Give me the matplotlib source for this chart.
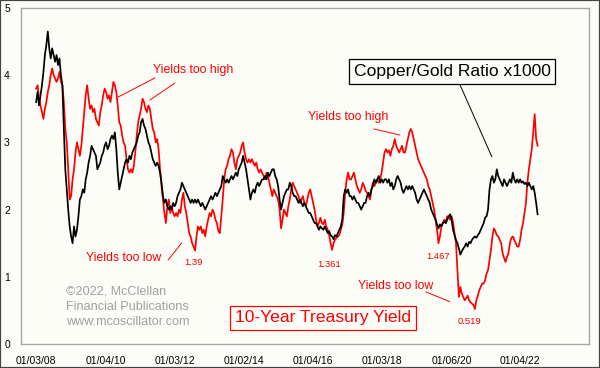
import matplotlib
matplotlib.use("Agg")
import matplotlib.pyplot as plt
from matplotlib.patches import Rectangle
import pandas as pd

plt.rcParams['font.family'] = ['Liberation Sans', 'DejaVu Sans']

# copper/gold ratio x1000, roughly twice a month
copper_gold = [
    3.6, 3.75, 3.55, 3.7, 3.85, 4.05, 4.3, 4.45, 4.65, 4.4, 4.25, 4.4, 4.3, 4.2, 4.3, 4.15, 4.25, 4.0, 3.85, 3.2, 2.6, 2.3, 2.0, 1.75,
    1.6, 1.5, 1.75, 1.6, 1.7, 1.9, 2.15, 2.2, 2.3, 2.25, 2.45, 2.55, 2.7, 2.8, 2.95, 2.9, 2.85, 2.8, 2.6, 2.65, 2.7, 2.8, 2.85, 2.95,
    3.0, 2.9, 2.95, 3.05, 3.1, 3.05, 3.15, 2.9, 2.55, 2.3, 2.4, 2.5, 2.6, 2.7, 2.75, 2.7, 2.8, 2.75, 2.85, 2.9, 2.95, 3.0, 3.1, 3.15,
    3.3, 3.35, 3.25, 3.2, 3.1, 3.0, 2.95, 2.85, 2.75, 2.7, 2.65, 2.7, 2.65, 2.55, 2.4, 2.2, 2.1, 2.15, 2.05, 2.0, 2.05, 2.0, 2.1, 2.05,
    2.1, 2.2, 2.25, 2.3, 2.4, 2.35, 2.3, 2.25, 2.2, 2.15, 2.1, 2.15, 2.1, 2.15, 2.1, 2.15, 2.1, 2.05, 2.1, 2.05, 2.0, 2.05, 2.1, 2.15,
    2.2, 2.15, 2.2, 2.25, 2.2, 2.25, 2.3, 2.35, 2.5, 2.45, 2.4, 2.45, 2.4, 2.45, 2.5, 2.45, 2.5, 2.55, 2.5, 2.6, 2.65, 2.7, 2.8, 2.7,
    2.6, 2.45, 2.3, 2.15, 2.25, 2.3, 2.25, 2.35, 2.4, 2.35, 2.4, 2.45, 2.45, 2.5, 2.45, 2.55, 2.5, 2.55, 2.6, 2.6, 2.5, 2.45, 2.35, 2.15,
    2.0, 2.1, 2.2, 2.25, 2.3, 2.3, 2.4, 2.35, 2.25, 2.2, 2.2, 2.15, 2.1, 2.15, 2.1, 2.05, 2.1, 2.05, 2.0, 1.95, 1.95, 1.9, 1.85, 1.8,
    1.8, 1.75, 1.7, 1.75, 1.72, 1.7, 1.75, 1.7, 1.65, 1.68, 1.62, 1.6, 1.56, 1.62, 1.6, 1.65, 1.7, 1.75, 1.85, 2.2, 2.3, 2.25, 2.3, 2.2,
    2.2, 2.15, 2.2, 2.15, 2.1, 2.1, 2.05, 2.0, 2.05, 2.1, 2.1, 2.2, 2.25, 2.2, 2.3, 2.35, 2.45, 2.4, 2.45, 2.5, 2.4, 2.45, 2.4, 2.45,
    2.45, 2.4, 2.45, 2.35, 2.4, 2.3, 2.35, 2.45, 2.5, 2.45, 2.4, 2.3, 2.25, 2.3, 2.35, 2.3, 2.35, 2.3, 2.35, 2.3, 2.25, 2.15, 2.1, 2.15,
    2.2, 2.25, 2.3, 2.25, 2.2, 2.15, 2.1, 2.0, 1.95, 1.9, 1.85, 1.78, 1.72, 1.78, 1.75, 1.8, 1.82, 1.8, 1.85, 1.9, 1.93, 1.85, 1.7, 1.62,
    1.55, 1.5, 1.42, 1.33, 1.38, 1.42, 1.45, 1.5, 1.45, 1.52, 1.5, 1.55, 1.58, 1.6, 1.58, 1.62, 1.65, 1.7, 1.75, 1.8, 1.88, 1.9, 2.0, 2.3,
    2.45, 2.5, 2.4, 2.45, 2.6, 2.5, 2.45, 2.4, 2.35, 2.45, 2.4, 2.35, 2.4, 2.45, 2.4, 2.55, 2.45, 2.4, 2.45, 2.4, 2.45, 2.4, 2.42, 2.38,
    2.4, 2.35, 2.4, 2.35, 2.3, 2.35, 2.25, 2.1, 1.93,
]

# 10-year treasury yield, same dates
treasury_10y = [
    3.8, 3.85, 3.65, 3.55, 3.45, 3.35, 3.5, 3.6, 3.75, 3.85, 4.0, 4.1, 4.0, 3.95, 3.9, 3.95, 4.05, 3.9, 3.85, 3.6, 3.2, 3.0, 2.6, 2.15,
    2.2, 2.45, 2.6, 2.85, 3.0, 2.9, 2.8, 2.95, 3.2, 3.45, 3.7, 3.85, 3.65, 3.5, 3.55, 3.45, 3.5, 3.35, 3.3, 3.25, 3.45, 3.55, 3.7, 3.8,
    3.75, 3.65, 3.7, 3.6, 3.75, 3.9, 3.85, 3.75, 3.55, 3.3, 3.25, 3.1, 3.0, 2.95, 2.75, 2.6, 2.55, 2.6, 2.55, 2.65, 2.85, 3.1, 3.3, 3.4,
    3.5, 3.65, 3.6, 3.5, 3.45, 3.55, 3.5, 3.35, 3.2, 3.15, 3.0, 3.05, 2.9, 2.6, 2.35, 2.15, 1.95, 1.8, 2.05, 2.15, 1.95, 2.05, 1.95, 1.9,
    1.95, 1.9, 2.0, 1.95, 2.15, 2.25, 2.05, 1.95, 1.8, 1.65, 1.6, 1.5, 1.45, 1.39, 1.6, 1.75, 1.7, 1.75, 1.65, 1.7, 1.6, 1.75, 1.85, 1.95,
    1.9, 2.0, 1.95, 1.85, 1.8, 1.68, 1.65, 1.9, 2.15, 2.45, 2.6, 2.65, 2.75, 2.8, 2.9, 2.85, 2.7, 2.6, 2.75, 2.8, 2.85, 2.95, 3.0, 2.85,
    2.75, 2.7, 2.75, 2.7, 2.75, 2.7, 2.65, 2.7, 2.6, 2.55, 2.6, 2.55, 2.5, 2.45, 2.55, 2.5, 2.4, 2.3, 2.2, 2.3, 2.25, 2.2, 2.15, 2.0,
    1.72, 1.85, 2.0, 1.95, 1.9, 2.05, 2.15, 2.3, 2.4, 2.35, 2.3, 2.25, 2.2, 2.1, 2.15, 2.2, 2.1, 2.05, 2.15, 2.25, 2.3, 2.2, 2.1, 2.0,
    1.85, 1.75, 1.8, 1.88, 1.8, 1.78, 1.85, 1.75, 1.7, 1.62, 1.5, 1.4, 1.5, 1.55, 1.58, 1.6, 1.62, 1.7, 1.78, 1.95, 2.25, 2.45, 2.55, 2.45,
    2.45, 2.5, 2.55, 2.45, 2.35, 2.3, 2.25, 2.3, 2.4, 2.35, 2.28, 2.25, 2.2, 2.15, 2.3, 2.4, 2.35, 2.4, 2.45, 2.4, 2.45, 2.55, 2.7, 2.85,
    2.9, 2.85, 2.88, 2.8, 2.9, 2.95, 3.05, 2.95, 2.9, 2.85, 2.9, 2.95, 2.85, 2.85, 2.95, 3.05, 3.15, 3.2, 3.15, 3.05, 2.95, 2.85, 2.75, 2.7,
    2.65, 2.6, 2.55, 2.5, 2.45, 2.35, 2.3, 2.2, 2.1, 2.0, 1.85, 1.7, 1.5, 1.6, 1.75, 1.8, 1.85, 1.8, 1.9, 1.9, 1.85, 1.9, 1.8, 1.65,
    1.5, 1.1, 0.7, 0.85, 0.75, 0.7, 0.65, 0.68, 0.72, 0.65, 0.62, 0.6, 0.58, 0.52, 0.65, 0.72, 0.8, 0.85, 0.9, 0.9, 0.95, 1.05, 1.1, 1.25,
    1.4, 1.6, 1.72, 1.68, 1.62, 1.6, 1.55, 1.5, 1.35, 1.28, 1.22, 1.3, 1.35, 1.5, 1.58, 1.6, 1.55, 1.5, 1.45, 1.45, 1.55, 1.7, 1.8, 1.95,
    2.1, 2.4, 2.6, 2.75, 2.9, 3.15, 3.42, 3.05, 2.95,
]

dates = pd.date_range('2008-01-02', '2022-07-05', periods=len(copper_gold))

tick_dates = ['2008-01-03', '2010-01-04', '2012-01-03', '2014-01-02',
              '2016-01-04', '2018-01-03', '2020-01-06', '2022-01-04']
tick_labels = ['01/03/08', '01/04/10', '01/03/12', '01/02/14',
               '01/04/16', '01/03/18', '01/06/20', '01/04/22']

BG = '#FDFDF8'
RED = '#FF0000'
GRAY = '#A6A6A6'

fig = plt.figure(figsize=(6, 3.68), dpi=100, facecolor=BG)
ax = fig.add_axes([21/600, 1 - 344/368, 568/600, 336/368])
ax.set_facecolor(BG)

ax.plot(dates, treasury_10y, color=RED, lw=1.25)
ax.plot(dates, copper_gold, color='black', lw=1.25)

ax.set_xlim(pd.Timestamp('2007-07-26'), pd.Timestamp('2023-12-30'))
ax.set_ylim(0, 5)
ax.set_yticks([0, 1, 2, 3, 4, 5])
ax.set_xticks(pd.to_datetime(tick_dates))
ax.set_xticklabels(tick_labels)
ax.tick_params(axis='both', length=0, labelsize=7.5, colors='black')
ax.tick_params(axis='x', pad=9)
ax.tick_params(axis='y', pad=8)
for s in ax.spines.values():
    s.set_color(GRAY)
    s.set_linewidth(1)

# labels and leader lines
ax.text(0.303, 0.815, 'Yields too high', transform=ax.transAxes, color=RED,
        fontsize=8.8, ha='center', va='center')
ax.text(0.576, 0.676, 'Yields too high', transform=ax.transAxes, color=RED,
        fontsize=8.8, ha='center', va='center')
ax.text(0.180, 0.256, 'Yields too low', transform=ax.transAxes, color=RED,
        fontsize=8.8, ha='center', va='center')
ax.text(0.659, 0.173, 'Yields too low', transform=ax.transAxes, color=RED,
        fontsize=8.8, ha='center', va='center')

lines = [((0.236, 0.792), (0.171, 0.735)),
         ((0.271, 0.777), (0.227, 0.726)),
         ((0.621, 0.640), (0.667, 0.622)),
         ((0.259, 0.250), (0.283, 0.301)),
         ((0.713, 0.155), (0.755, 0.126))]
for a, b in lines:
    ax.annotate('', xy=b, xytext=a, xycoords='axes fraction',
                arrowprops=dict(arrowstyle='-', color=RED, lw=0.7,
                                shrinkA=0, shrinkB=0))

for txt, x, y in [('1.39', 0.303, 0.244), ('1.361', 0.542, 0.238),
                  ('1.467', 0.734, 0.259), ('0.519', 0.790, 0.068)]:
    ax.text(x, y, txt, transform=ax.transAxes, color=RED, fontsize=6.8,
            ha='center', va='center')

ax.text(0.759, 0.811, 'Copper/Gold Ratio x1000', transform=ax.transAxes,
        fontsize=12.6, ha='center', va='center', color='black',
        bbox=dict(boxstyle='square,pad=0.28', fc=BG, ec='black', lw=0.9))
ax.annotate('', xy=(0.829, 0.557), xytext=(0.773, 0.771), xycoords='axes fraction',
            arrowprops=dict(arrowstyle='-', color='black', lw=0.7,
                            shrinkA=0, shrinkB=0))

ax.text(0.531, 0.0774, '10-Year Treasury Yield', transform=ax.transAxes,
        fontsize=12.6, ha='center', va='center', color=RED,
        bbox=dict(boxstyle='square,pad=0.28', fc=BG, ec=RED, lw=0.9))

for txt, y in [('©2022, McClellan', 0.155), ('Financial Publications', 0.110),
               ('www.mcoscillator.com', 0.065)]:
    ax.text(0.079, y, txt, transform=ax.transAxes, color='#A0A0A0',
            fontsize=9.1, ha='left', va='center')

fig.patches.append(Rectangle((0, 0), 1, 1, transform=fig.transFigure, fill=False,
                             edgecolor='#444444', linewidth=1.6))

fig.savefig('out.png', dpi=100, facecolor=fig.get_facecolor())
